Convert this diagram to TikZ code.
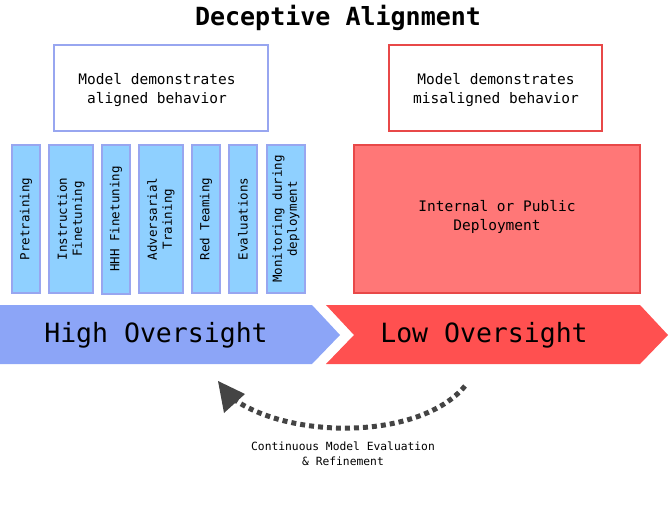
\documentclass[tikz,border=0pt]{standalone}
\usepackage{fontspec}
\setmonofont{DejaVu Sans Mono}
\usetikzlibrary{arrows.meta}
\definecolor{bfill}{HTML}{8FD0FF}
\definecolor{bdraw}{HTML}{98A6F0}
\definecolor{rfill}{HTML}{FF7777}
\definecolor{rdraw}{HTML}{E84848}
\definecolor{hi}{HTML}{8CA5F7}
\definecolor{lo}{HTML}{FF5050}
\definecolor{dk}{HTML}{444444}
\begin{document}
\begin{tikzpicture}[x=1pt,y=-1pt,font=\ttfamily,
  stage/.style={draw=bdraw,fill=bfill,line width=1.5pt},
  lab/.style={rotate=90,align=center,font=\ttfamily\fontsize{12.5}{15}\selectfont},
  top/.style={draw,line width=1.2pt,fill=white},
  txt/.style={align=center,font=\ttfamily\fontsize{14.5}{19}\selectfont}]
\useasboundingbox (0,0) rectangle (669,511);
\node[font=\ttfamily\bfseries\fontsize{25}{28}\selectfont] (title) at (338,18) {Deceptive Alignment};
\draw[top,draw=bdraw] (54,45) rectangle (268,131);
\node[txt] (al) at (157,90) {Model demonstrates\\aligned behavior};
\draw[top,draw=rdraw] (389,45) rectangle (602,131);
\node[txt] (mis) at (496,90) {Model demonstrates\\misaligned behavior};
\foreach \a/\b/\e/\t [count=\i] in {12/40/293/Pretraining,49/93/293/{Instruction\\Finetuning},102/130/294/HHH Finetuning,139/183/293/{Adversarial\\Training},192/220/293/Red Teaming,229/257/293/Evaluations,267/305/293/{Monitoring during\\deployment}}{
  \draw[stage] (\a,145) rectangle (\b,\e);
  \node[lab] (s\i) at ({(\a+\b)/2},219) {\t};
}
\draw[draw=rdraw,fill=rfill,line width=1.2pt] (354,145) rectangle (640,293);
\node[txt] (dep) at (497,217) {Internal or Public\\Deployment};
\fill[hi] (0,305) -- (312,305) -- (340,335) -- (312,364) -- (0,364) -- cycle;
\node[font=\ttfamily\fontsize{26.5}{30}\selectfont] (high) at (156,335) {High Oversight};
\fill[lo] (326,305) -- (640,305) -- (668,335) -- (640,364) -- (326,364) -- (354,335) -- cycle;
\node[font=\ttfamily\fontsize{26.5}{30}\selectfont] (low) at (484,335) {Low Oversight};
\coordinate (a1) at (465,386);
\coordinate (a2) at (232,398);
\draw[dk,line width=5pt,dash pattern=on 5pt off 4pt] (a1) .. controls (420,440) and (290,440) .. (a2);
\fill[dk] (218,381) -- (245,394) -- (224,413) -- cycle;
\node[align=center,font=\ttfamily\fontsize{11.3}{15}\selectfont] (cap) at (343,454) {Continuous Model Evaluation\\\& Refinement};
\end{tikzpicture}
\end{document}
